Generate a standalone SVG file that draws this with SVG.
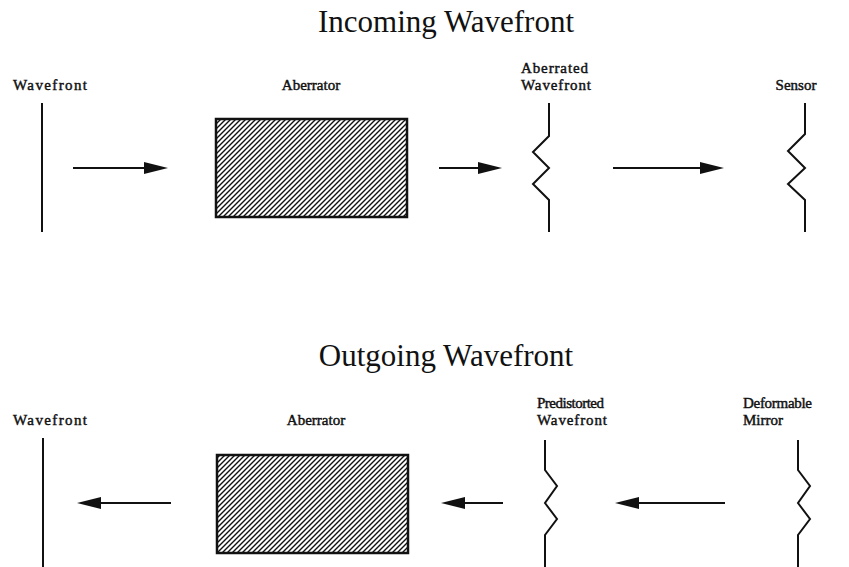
<svg xmlns="http://www.w3.org/2000/svg" width="849" height="567" viewBox="0 0 849 567">
<style>
.title{font-family:"Liberation Serif","Times New Roman",serif;font-size:31px;fill:#111;}
.lbl{font-family:"Liberation Serif","Times New Roman",serif;font-size:15px;fill:#111;stroke:#111;stroke-width:0.45;}
.wf{fill:none;stroke:#111;stroke-width:2;stroke-linejoin:miter;}
.shaft{fill:none;stroke:#111;stroke-width:2;}
.head{fill:#111;}
.box{fill:url(#hatch);stroke:#111;stroke-width:2.5;}
</style>
<defs>
<pattern id="hatch" patternUnits="userSpaceOnUse" width="5" height="5">
<rect width="5" height="5" fill="#fff"/>
<path d="M-1,6 L6,-1 M-1,1 L1,-1 M4,6 L6,4" stroke="#111" stroke-width="1.4"/>
</pattern>
</defs>
<rect width="849" height="567" fill="#fff"/>

<g id="title-incoming"><text class="title" x="446" y="32" text-anchor="middle">Incoming Wavefront</text></g>
<g id="title-outgoing"><text class="title" x="446" y="366" text-anchor="middle">Outgoing Wavefront</text></g>

<!-- Top section -->
<g id="in-wavefront">
<text class="lbl" x="13" y="90" textLength="74">Wavefront</text>
<path class="wf" d="M42,103 V232"/>
</g>
<g id="in-aberrator">
<text class="lbl" x="311" y="90" text-anchor="middle">Aberrator</text>
<rect class="box" x="216" y="119" width="191" height="98"/>
</g>
<g id="in-aberrated">
<text class="lbl" x="521" y="73" textLength="67">Aberrated</text>
<text class="lbl" x="521" y="90" textLength="70">Wavefront</text>
<path class="wf" d="M549,103 V136 L533,152 L549,168 L533,184 L549,200 V232"/>
</g>
<g id="in-sensor">
<text class="lbl" x="796" y="90" text-anchor="middle">Sensor</text>
<path class="wf" d="M805,103 V134 L788,151 L805,168 L788,184 L805,200 V232"/>
</g>

<!-- Bottom section -->
<g id="out-wavefront">
<text class="lbl" x="13" y="425" textLength="74">Wavefront</text>
<path class="wf" d="M43,438 V567"/>
</g>
<g id="out-aberrator">
<text class="lbl" x="316" y="425" text-anchor="middle">Aberrator</text>
<rect class="box" x="217" y="455" width="191" height="98"/>
</g>
<g id="out-predistorted">
<text class="lbl" x="537" y="408" textLength="67">Predistorted</text>
<text class="lbl" x="537" y="425" textLength="70">Wavefront</text>
<path class="wf" d="M545,440 V470 L557,486 L545,503 L557,519 L545,535 V567"/>
</g>
<g id="out-mirror">
<text class="lbl" x="743" y="408" textLength="69">Deformable</text>
<text class="lbl" x="743" y="425">Mirror</text>
<path class="wf" d="M798,440 V470 L810,486 L798,503 L810,519 L798,535 V567"/>
</g>

<g id="connectors">
<path class="shaft" d="M73,168 H150"/>
<path class="head" d="M168,168 L144,162 L144,174 Z"/>
<path class="shaft" d="M439,168 H482"/>
<path class="head" d="M502,168 L478,162 L478,174 Z"/>
<path class="shaft" d="M613,168 H705"/>
<path class="head" d="M724,168 L700,162 L700,174 Z"/>

<path class="shaft" d="M171,503 H95"/>
<path class="head" d="M77,503 L101,497 L101,509 Z"/>
<path class="shaft" d="M503,503 H460"/>
<path class="head" d="M441,503 L465,497 L465,509 Z"/>
<path class="shaft" d="M725,503 H635"/>
<path class="head" d="M615,503 L639,497 L639,509 Z"/>
</g>
</svg>
